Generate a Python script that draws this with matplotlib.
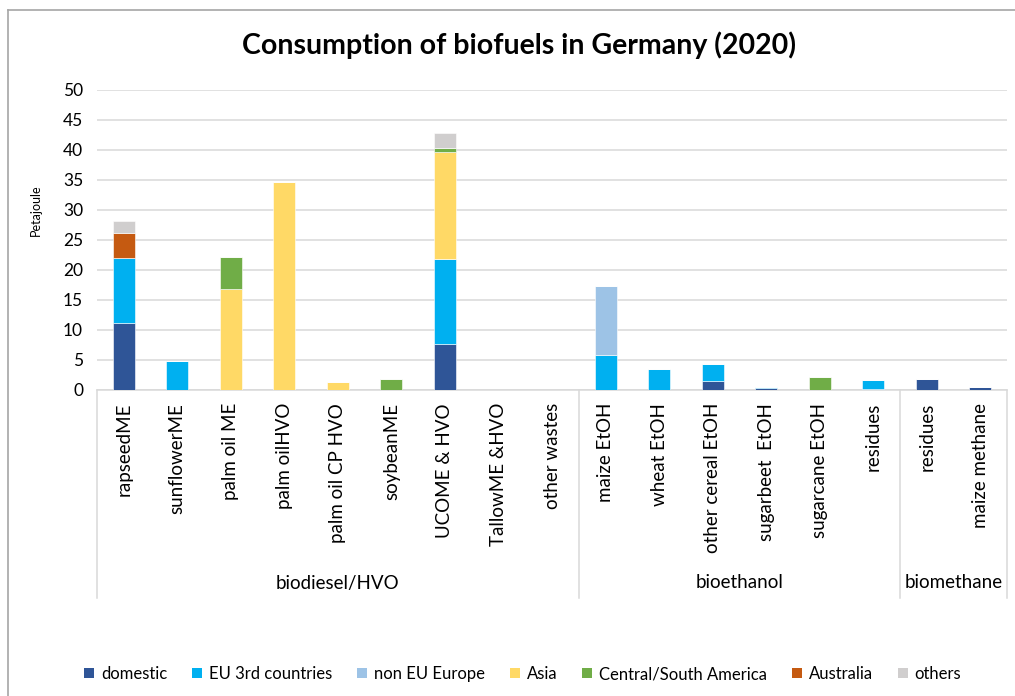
import matplotlib
matplotlib.use("Agg")
import matplotlib.pyplot as plt
import matplotlib.transforms as mtransforms
from matplotlib.lines import Line2D
from matplotlib.patches import Patch
import numpy as np

plt.rcParams["font.family"] = ["Lato", "DejaVu Sans"]

# ---- data -------------------------------------------------------------
categories = ["rapseedME", "sunflowerME", "palm oil ME", "palm oilHVO",
              "palm oil CP HVO", "soybeanME", "UCOME & HVO", "TallowME &HVO",
              "other wastes",
              "maize EtOH", "wheat EtOH", "other cereal EtOH", "sugarbeet  EtOH",
              "sugarcane EtOH", "residues",
              "residues", "maize methane"]
groups = ["biodiesel/HVO", "bioethanol", "biomethane"]
group_sizes = [9, 6, 2]

domestic = [11.2, 0, 0, 0, 0, 0, 7.6, 0, 0, 0, 0, 1.5, 0.3, 0, 0.2, 1.8, 0.5]
eu_3rd = [10.8, 4.9, 0, 0, 0, 0, 14.2, 0, 0, 5.8, 3.5, 2.8, 0.15, 0, 1.5, 0, 0]
non_eu_europe = [0, 0, 0, 0, 0, 0, 0, 0, 0, 11.5, 0, 0, 0, 0, 0, 0, 0]
asia = [0, 0, 16.9, 34.7, 1.4, 0, 17.8, 0, 0, 0, 0, 0, 0, 0, 0, 0, 0]
central_south_america = [0, 0, 5.3, 0, 0, 1.8, 0.8, 0, 0, 0, 0, 0, 0, 2.1, 0, 0, 0]
australia = [4.2, 0, 0, 0, 0, 0, 0, 0, 0, 0, 0, 0, 0, 0, 0, 0, 0]
others = [1.9, 0, 0, 0, 0, 0, 2.4, 0, 0, 0, 0, 0, 0, 0, 0, 0, 0]

series = [("domestic", domestic, "#2F5597"),
          ("EU 3rd countries", eu_3rd, "#00B0F0"),
          ("non EU Europe", non_eu_europe, "#9DC3E6"),
          ("Asia", asia, "#FFD966"),
          ("Central/South America", central_south_america, "#70AD47"),
          ("Australia", australia, "#C55A11"),
          ("others", others, "#D0CECE")]

# ---- figure -----------------------------------------------------------
W, H = 1015, 696
fig = plt.figure(figsize=(W / 100, H / 100), dpi=100)


def fx(px):
    return px / W


def fy(py):
    return 1 - py / H


ax = fig.add_axes([fx(97), fy(390), fx(1007) - fx(97), fy(90) - fy(390)])

x = np.arange(len(categories))
bottom = np.zeros(len(categories))
for name, vals, col in series:
    v = np.array(vals, dtype=float)
    ax.bar(x, v, width=0.41, bottom=bottom, color=col, label=name,
           edgecolor="white", linewidth=0.4, zorder=3)
    bottom += v

ax.set_xlim(-0.5, len(categories) - 0.5)
ax.set_ylim(0, 50)
ax.set_yticks(range(0, 51, 5))
ax.tick_params(axis="y", length=0, labelsize=12.5, pad=10, colors="#000000")
ax.tick_params(axis="x", length=0, labelbottom=False)
ax.grid(axis="y", color="#D9D9D9", linewidth=1.1, zorder=0)
for s in ["top", "right", "left"]:
    ax.spines[s].set_visible(False)
ax.spines["bottom"].set_color("#D9D9D9")
ax.spines["bottom"].set_linewidth(1.1)
ax.set_ylabel("Petajoule", fontsize=9)
ax.yaxis.set_label_coords(fx(42 - 97) / (fx(1007) - fx(97)), 0.6)

# category labels and group separators below the axis
trans = mtransforms.blended_transform_factory(ax.transData, fig.transFigure)
for i, lab in enumerate(categories):
    fig.text(i, fy(403), lab, transform=trans, rotation=90, ha="center",
             va="top", fontsize=13.5)

edges = np.concatenate([[0], np.cumsum(group_sizes)]) - 0.5
for e in edges:
    fig.add_artist(Line2D([e, e], [fy(390), fy(598)], transform=trans,
                          color="#D9D9D9", linewidth=1.1))
for g, a, b in zip(groups, edges[:-1], edges[1:]):
    fig.text((a + b) / 2, fy(583), g, transform=trans, ha="center",
             va="center", fontsize=13.5)

fig.text(0.511, fy(45), "Consumption of biofuels in Germany (2020)",
         ha="center", va="center", fontsize=20.5, fontweight="bold")

handles = [Patch(facecolor=c, edgecolor="none") for _, _, c in series]
fig.legend(handles, [n for n, _, _ in series], loc="center",
           bbox_to_anchor=(0.515, fy(674)), ncol=7, frameon=False,
           fontsize=12, handlelength=0.6, handleheight=0.6,
           handletextpad=0.4, columnspacing=1.5)

# chart border
fig.add_artist(Line2D([fx(8), fx(8)], [fy(10), 0], color="#A6A6A6",
                      linewidth=1.2))
fig.add_artist(Line2D([fx(8), 1], [fy(10), fy(10)], color="#A6A6A6",
                      linewidth=1.2))

fig.savefig("out.png", dpi=100)
